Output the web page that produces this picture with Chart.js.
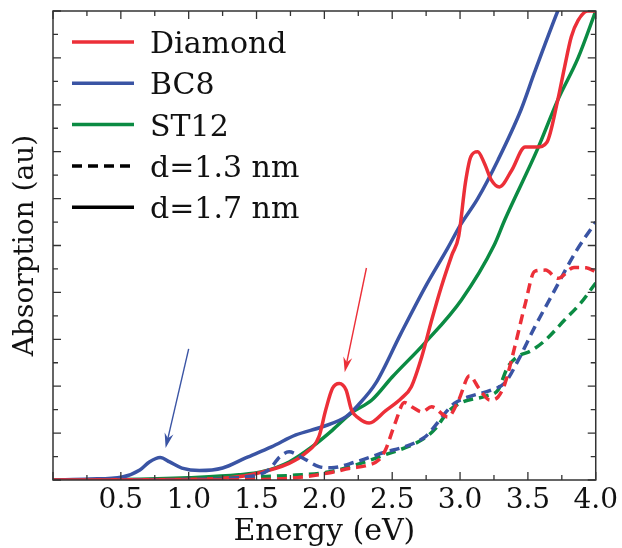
<!DOCTYPE html>
<html>
<head>
<meta charset="utf-8">
<script src="https://cdn.jsdelivr.net/npm/chart.js@4.4.1/dist/chart.umd.min.js"></script>
<style>
  html, body { margin: 0; padding: 0; background: #fff; }
</style>
</head>
<body>
<canvas id="graficoAbsorcao" width="622" height="548"></canvas>
<script>
// d = 1.7 nm (linhas cheias)
const energiaDiamante17 = [0, 0.5, 1.0, 1.3, 1.5, 1.74, 1.86, 1.96, 2.01, 2.06, 2.11, 2.16, 2.2, 2.25, 2.33, 2.45, 2.57, 2.64, 2.72, 2.79, 2.86, 2.94, 2.99, 3.04, 3.08, 3.13, 3.18, 3.23, 3.29, 3.38, 3.48, 3.57, 3.64, 3.72, 3.77, 3.82, 3.87, 3.94, 4.0];
const absorcaoDiamante17 = [0, 0.01, 0.03, 0.1, 0.28, 0.71, 1.14, 1.85, 2.99, 3.91, 4.12, 3.84, 2.99, 2.65, 2.43, 2.95, 3.5, 3.97, 5.3, 6.8, 8.2, 9.6, 10.4, 12.7, 13.8, 14.0, 13.5, 12.8, 12.5, 13.2, 14.2, 14.2, 14.4, 16.2, 17.6, 18.9, 19.6, 20.0, 20.0];

const energiaBC817 = [0, 0.27, 0.51, 0.64, 0.71, 0.79, 0.86, 0.95, 1.08, 1.25, 1.42, 1.61, 1.79, 1.98, 2.16, 2.25, 2.38, 2.56, 2.75, 2.91, 3.0, 3.13, 3.28, 3.45, 3.55, 3.72, 3.85];
const absorcaoBC817 = [0, 0.04, 0.13, 0.43, 0.77, 0.96, 0.77, 0.51, 0.4, 0.51, 0.94, 1.41, 1.92, 2.26, 2.7, 3.2, 4.14, 6.2, 8.3, 9.9, 10.85, 12.0, 13.65, 15.8, 17.4, 20.0, 21.8];

const energiaST1217 = [0, 0.5, 1.0, 1.37, 1.54, 1.74, 1.91, 2.06, 2.2, 2.35, 2.5, 2.74, 3.01, 3.25, 3.33, 3.57, 3.72, 3.87, 4.0];
const absorcaoST1217 = [0, 0.02, 0.1, 0.22, 0.35, 0.77, 1.42, 2.13, 2.86, 3.41, 4.39, 5.84, 7.68, 10.0, 11.1, 14.1, 16.2, 18.0, 20.0];

// d = 1.3 nm (linhas tracejadas)
const energiaDiamante13 = [0, 1.0, 1.5, 1.8, 2.03, 2.2, 2.3, 2.4, 2.45, 2.52, 2.59, 2.65, 2.72, 2.79, 2.91, 2.99, 3.07, 3.14, 3.22, 3.28, 3.33, 3.4, 3.48, 3.55, 3.63, 3.72, 3.84, 3.93, 4.0];
const absorcaoDiamante13 = [0, 0, 0.02, 0.1, 0.3, 0.51, 0.6, 0.85, 1.28, 2.4, 3.3, 3.1, 2.9, 3.12, 2.69, 3.41, 4.45, 3.9, 3.41, 3.54, 4.1, 5.6, 7.5, 8.9, 8.95, 8.6, 9.06, 9.05, 8.87];

const energiaBC813 = [0, 1.0, 1.4, 1.59, 1.67, 1.74, 1.84, 1.96, 2.05, 2.23, 2.4, 2.74, 2.79, 2.91, 2.96, 3.06, 3.23, 3.33, 3.43, 3.55, 3.67, 3.86, 4.0];
const absorcaoBC813 = [0, 0.02, 0.12, 0.43, 0.98, 1.2, 0.94, 0.57, 0.52, 0.77, 1.1, 1.83, 2.13, 2.99, 3.28, 3.54, 3.84, 4.14, 5.12, 6.52, 7.8, 9.8, 11.0];

const energiaST1213 = [0, 1.0, 1.5, 1.79, 2.03, 2.23, 2.4, 2.74, 2.82, 2.91, 3.0, 3.2, 3.28, 3.35, 3.42, 3.52, 3.63, 3.77, 3.89, 4.0];
const absorcaoST1213 = [0, 0.02, 0.13, 0.21, 0.34, 0.64, 0.98, 1.79, 2.2, 2.9, 3.28, 3.6, 3.84, 4.8, 5.25, 5.5, 5.97, 6.82, 7.55, 8.4];

// setas: [energia, absorção] início e ponta
const setaBC8 = [[1.0, 5.59], [0.83, 1.36]];
const setaDiamante = [[2.31, 9.04], [2.15, 4.6]];

const rotulosLegenda = ['Diamond', 'BC8', 'ST12', 'd=1.3 nm', 'd=1.7 nm'];

const corDiamante = '#ec2f38';
const corBC8 = '#3a54a4';
const corST12 = '#0b8b43';
const tracejado = [10, 6];
const fonteSerif = '"DejaVu Serif"';

function pares(xs, ys) {
  return xs.map(function(x, i) { return { x: x, y: ys[i] }; });
}

function serie(rotulo, xs, ys, cor, dash) {
  return {
    label: rotulo,
    data: pares(xs, ys),
    borderColor: cor,
    backgroundColor: cor,
    borderWidth: 3.5,
    borderDash: dash,
    pointRadius: 0,
    cubicInterpolationMode: 'monotone',
    fill: false
  };
}

const pluginMoldura = {
  id: 'moldura',
  afterDraw: function(chart) {
    const ctx = chart.ctx;
    const area = chart.chartArea;
    const sx = chart.scales.x;
    const sy = chart.scales.y;
    ctx.save();
    ctx.strokeStyle = '#333';
    ctx.lineWidth = 1.5;
    ctx.strokeRect(area.left, area.top, area.right - area.left, area.bottom - area.top);

    ctx.lineWidth = 1.3;
    ctx.beginPath();
    sx.ticks.forEach(function(t) {
      const px = sx.getPixelForValue(t.value);
      const len = Math.abs(t.value * 2 - Math.round(t.value * 2)) < 1e-6 ? 8 : 5;
      ctx.moveTo(px, area.bottom);
      ctx.lineTo(px, area.bottom - len);
      ctx.moveTo(px, area.top);
      ctx.lineTo(px, area.top + len);
    });
    sy.ticks.forEach(function(t) {
      const py = sy.getPixelForValue(t.value);
      const len = Math.round(t.value) % 2 === 0 ? 8 : 5;
      ctx.moveTo(area.left, py);
      ctx.lineTo(area.left + len, py);
      ctx.moveTo(area.right, py);
      ctx.lineTo(area.right - len, py);
    });
    ctx.stroke();

    desenharSeta(ctx, sx, sy, setaBC8, corBC8);
    desenharSeta(ctx, sx, sy, setaDiamante, corDiamante);
    desenharLegenda(ctx, area);
    ctx.restore();
  }
};

function desenharSeta(ctx, sx, sy, seta, cor) {
  const x0 = sx.getPixelForValue(seta[0][0]);
  const y0 = sy.getPixelForValue(seta[0][1]);
  const x1 = sx.getPixelForValue(seta[1][0]);
  const y1 = sy.getPixelForValue(seta[1][1]);
  const ang = Math.atan2(y1 - y0, x1 - x0);
  const compr = 15;
  const larg = 4.5;
  ctx.strokeStyle = cor;
  ctx.fillStyle = cor;
  ctx.lineWidth = 1.4;
  ctx.beginPath();
  ctx.moveTo(x0, y0);
  ctx.lineTo(x1 - Math.cos(ang) * 8, y1 - Math.sin(ang) * 8);
  ctx.stroke();
  ctx.beginPath();
  ctx.moveTo(x1, y1);
  ctx.lineTo(x1 - Math.cos(ang) * compr - Math.sin(ang) * larg, y1 - Math.sin(ang) * compr + Math.cos(ang) * larg);
  ctx.lineTo(x1 - Math.cos(ang) * 10, y1 - Math.sin(ang) * 10);
  ctx.lineTo(x1 - Math.cos(ang) * compr + Math.sin(ang) * larg, y1 - Math.sin(ang) * compr - Math.cos(ang) * larg);
  ctx.closePath();
  ctx.fill();
}

function desenharLegenda(ctx, area) {
  const cores = [corDiamante, corBC8, corST12, '#000', '#000'];
  const estilos = [[], [], [], tracejado, []];
  ctx.font = '30px ' + fonteSerif;
  ctx.textBaseline = 'alphabetic';
  ctx.textAlign = 'left';
  rotulosLegenda.forEach(function(rotulo, i) {
    const y = area.top + 31 + i * 41.3;
    ctx.strokeStyle = cores[i];
    ctx.lineWidth = 3.5;
    ctx.setLineDash(estilos[i]);
    ctx.beginPath();
    ctx.moveTo(area.left + 19, y);
    ctx.lineTo(area.left + 81, y);
    ctx.stroke();
    ctx.setLineDash([]);
    ctx.fillStyle = '#111';
    ctx.fillText(rotulo, area.left + 97, y + 11);
  });
}

document.addEventListener('DOMContentLoaded', function() {
  const ctx = document.getElementById('graficoAbsorcao').getContext('2d');
  new Chart(ctx, {
    type: 'line',
    data: {
      datasets: [
        serie('Diamond 1.3', energiaDiamante13, absorcaoDiamante13, corDiamante, tracejado),
        serie('BC8 1.3', energiaBC813, absorcaoBC813, corBC8, tracejado),
        serie('ST12 1.3', energiaST1213, absorcaoST1213, corST12, tracejado),
        serie('Diamond 1.7', energiaDiamante17, absorcaoDiamante17, corDiamante, []),
        serie('BC8 1.7', energiaBC817, absorcaoBC817, corBC8, []),
        serie('ST12 1.7', energiaST1217, absorcaoST1217, corST12, [])
      ]
    },
    options: {
      responsive: false,
      animation: false,
      layout: { padding: { top: 11, right: 24, left: 0, bottom: 0 } },
      plugins: {
        legend: { display: false },
        tooltip: { enabled: false }
      },
      scales: {
        x: {
          type: 'linear',
          min: 0,
          max: 4,
          afterFit: function(scale) { scale.height = 68; },
          grid: { drawOnChartArea: false, drawTicks: false },
          border: { display: false },
          ticks: {
            stepSize: 0.25,
            autoSkip: false,
            maxRotation: 0,
            padding: 4,
            color: '#111',
            font: { family: fonteSerif, size: 28 },
            callback: function(value) {
              if (value > 0 && Math.abs(value * 2 - Math.round(value * 2)) < 1e-6) {
                return value.toFixed(1);
              }
              return '';
            }
          },
          title: {
            display: true,
            text: 'Energy (eV)',
            color: '#111',
            font: { family: fonteSerif, size: 30, lineHeight: 1.2 },
            padding: { top: 0, bottom: -2 }
          }
        },
        y: {
          min: 0,
          max: 20,
          afterFit: function(scale) { scale.width = 53; },
          grid: { drawOnChartArea: false, drawTicks: false },
          border: { display: false },
          ticks: { display: false, stepSize: 1 },
          title: {
            display: true,
            text: 'Absorption (au)',
            color: '#111',
            font: { family: fonteSerif, size: 28, lineHeight: 1.2 },
            padding: { top: 9, bottom: 0 }
          }
        }
      }
    },
    plugins: [pluginMoldura]
  });
});
</script>
</body>
</html>
